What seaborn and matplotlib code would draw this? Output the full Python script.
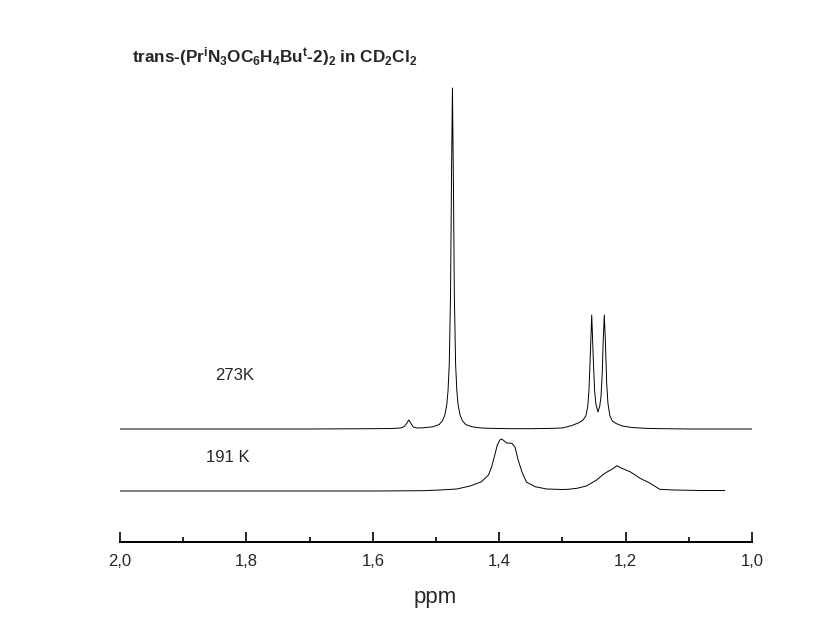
import numpy as np
import pandas as pd
import matplotlib
matplotlib.use("Agg")
import matplotlib.pyplot as plt
import seaborn as sns

# ---- data ----
ppm_273 = [2.000, 1.900, 1.800, 1.700, 1.600, 1.570, 1.556, 1.550, 1.546, 1.543,
           1.540, 1.536, 1.530, 1.520, 1.505, 1.495, 1.490, 1.486, 1.483, 1.481,
           1.479, 1.477, 1.4755, 1.474, 1.4725, 1.471, 1.469, 1.467, 1.465, 1.462,
           1.458, 1.453, 1.443, 1.428, 1.410, 1.380, 1.350, 1.320, 1.300, 1.285,
           1.275, 1.268, 1.263, 1.260, 1.258, 1.256, 1.2536, 1.251, 1.249, 1.247,
           1.2437, 1.241, 1.239, 1.237, 1.2355, 1.2337, 1.232, 1.230, 1.228, 1.225,
           1.221, 1.215, 1.205, 1.190, 1.170, 1.150, 1.100, 1.050, 1.000]
int_273 = [0, 0, 0, 0, 0.3, 0.5, 1.0, 2.5, 6.0, 9.0,
           6.0, 2.0, 1.0, 1.2, 2.2, 4.5, 8, 14, 24, 38,
           65, 135, 250, 341, 250, 135, 65, 38, 24, 14,
           8, 4.5, 2.2, 1.0, 0.6, 0.3, 0.3, 0.6, 1.0, 3.5,
           6.0, 8.5, 13, 22, 38, 71, 114, 68, 38, 25,
           17, 22.6, 32, 55, 87, 114, 88, 47, 26, 13.4,
           8, 5.5, 3, 1.5, 0.7, 0.4, 0, 0, 0]

ppm_191 = [2.000, 1.800, 1.600, 1.520, 1.494, 1.467, 1.446, 1.428, 1.417, 1.412,
           1.407, 1.403, 1.399, 1.396, 1.388, 1.380, 1.375, 1.370, 1.364, 1.357,
           1.343, 1.325, 1.300, 1.291, 1.277, 1.262, 1.246, 1.233, 1.219, 1.214,
           1.206, 1.193, 1.177, 1.161, 1.146, 1.124, 1.080, 1.043]
int_191 = [0, 0, 0, 0.3, 1, 2, 5, 9.3, 16, 24,
           36, 46, 51, 52, 48, 47.7, 44, 31, 19, 9,
           4.3, 2, 1.5, 1.7, 2.7, 5, 11, 17.7, 22.7, 25.3,
           22.7, 19.3, 12.7, 7.7, 1.7, 1, 0.5, 0.5]

trace_labels = ["273K", "191 K"]
major_ticks = [2.0, 1.8, 1.6, 1.4, 1.2, 1.0]
major_tick_labels = ["2,0", "1,8", "1,6", "1,4", "1,2", "1,0"]
minor_ticks = [1.9, 1.7, 1.5, 1.3, 1.1]
title_text = r"trans-(Pr$^{i}$N$_{3}$OC$_{6}$H$_{4}$Bu$^{t}$-2)$_{2}$ in CD$_{2}$Cl$_{2}$"
x_label = "ppm"

# ---- style ----
sns.set_style("white")
plt.rcParams["font.family"] = ["Liberation Sans", "DejaVu Sans"]
plt.rcParams["mathtext.default"] = "regular"

W, H = 825, 638
fig = plt.figure(figsize=(W / 100, H / 100), dpi=100)
ax_left, ax_right, ax_bottom, ax_top = 120, 752, 542, 40
ax = fig.add_axes([ax_left / W, 1 - ax_bottom / H,
                   (ax_right - ax_left) / W, (ax_bottom - ax_top) / H])

offset_273 = 113
offset_191 = 51
df273 = pd.DataFrame({"ppm": ppm_273, "y": np.array(int_273) + offset_273})
df191 = pd.DataFrame({"ppm": ppm_191, "y": np.array(int_191) + offset_191})
sns.lineplot(data=df273, x="ppm", y="y", ax=ax, color="black", lw=0.7,
             estimator=None, sort=False)
sns.lineplot(data=df191, x="ppm", y="y", ax=ax, color="black", lw=0.7,
             estimator=None, sort=False)

ax.set_xlim(2.0, 1.0)
ax.set_ylim(0, ax_bottom - ax_top)
ax.set_ylabel("")
ax.set_yticks([])
for s in ["left", "right", "top"]:
    ax.spines[s].set_visible(False)
ax.spines["bottom"].set_linewidth(1.4)
ax.spines["bottom"].set_color("black")

ax.set_xticks(major_ticks)
ax.set_xticklabels(major_tick_labels)
ax.set_xticks(minor_ticks, minor=True)
ax.tick_params(axis="x", which="major", direction="in", length=7, width=1.2,
               color="black", labelsize=12, pad=9, bottom=True)
ax.tick_params(axis="x", which="minor", direction="in", length=3.8, width=1.2,
               color="black", bottom=True)

ax.set_xlabel(x_label, fontsize=16)
ax.xaxis.set_label_coords(0.498, (ax_bottom - 598) / (ax_bottom - ax_top))
ax.xaxis.label.set_verticalalignment("center")

fig.text(215 / W, 1 - 376 / H, trace_labels[0], fontsize=12, va="center", ha="left")
fig.text(206 / W, 1 - 458 / H, trace_labels[1], fontsize=12, va="center", ha="left")
fig.text(132 / W, 1 - 62 / H, title_text, fontsize=12.3, fontweight="bold",
         va="baseline", ha="left")

fig.savefig("out.png", dpi=100, facecolor="white")
